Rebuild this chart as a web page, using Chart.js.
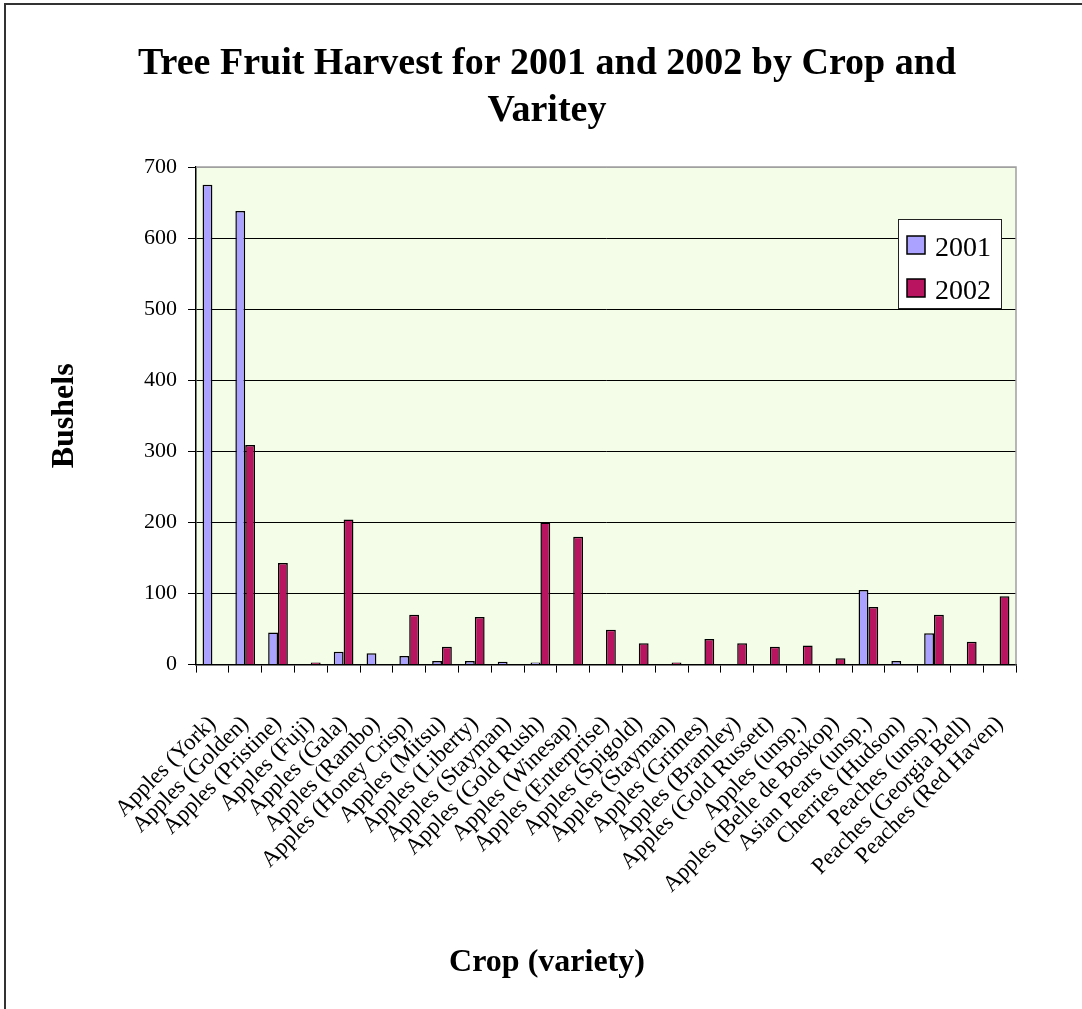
<!DOCTYPE html>
<html>
<head>
<meta charset="utf-8">
<title>Tree Fruit Harvest</title>
<script src="https://cdn.jsdelivr.net/npm/chart.js@4.4.1/dist/chart.umd.min.js"></script>
<style>
    html, body { margin: 0; padding: 0; background: #fff; overflow: hidden; }
    #frame {
        position: absolute; left: 4px; top: 3px; width: 1078px; height: 1006px;
        border-top: 2px solid #333; border-left: 2px solid #333;
    }
    #harvest-chart { position: absolute; left: 0; top: 0; }
</style>
</head>
<body>
<div id="frame"></div>
<canvas id="harvest-chart" width="1082" height="1009"></canvas>
<script>
const crops = [
    'Apples (York)', 'Apples (Golden)', 'Apples (Pristine)', 'Apples (Fuji)',
    'Apples (Gala)', 'Apples (Rambo)', 'Apples (Honey Crisp)', 'Apples (Mitsu)',
    'Apples (Liberty)', 'Apples (Stayman)', 'Apples (Gold Rush)', 'Apples (Winesap)',
    'Apples (Enterprise)', 'Apples (Spigold)', 'Apples (Stayman)', 'Apples (Grimes)',
    'Apples (Bramley)', 'Apples (Gold Russett)', 'Apples (unsp.)', 'Apples (Belle de Boskop)',
    'Asian Pears (unsp.)', 'Cherries (Hudson)', 'Peaches (unsp.)', 'Peaches (Georgia Bell)',
    'Peaches (Red Haven)'
];

// bushels per crop, null = nothing harvested that year
const bushels2001 = [675, 638, 45, null, 18, 16, 12, 5, 5, 4, 3, null, null, null,
    null, null, null, null, null, null, 105, 5, 44, null, null];
const bushels2002 = [null, 309, 143, 3, 204, null, 70, 25, 67, null, 200, 180, 49, 30,
    3, 36, 30, 25, 27, 9, 81, null, 70, 32, 96];

const yTickValues = [0, 100, 200, 300, 400, 500, 600, 700];

const serif = "'Liberation Serif', 'Times New Roman', serif";

// light green plot area with grey top/right edges
const plotArea = {
    id: 'plotArea',
    beforeDraw(chart) {
        const { ctx, chartArea: a } = chart;
        ctx.save();
        ctx.fillStyle = '#f3fde7';
        ctx.fillRect(a.left, a.top, a.width, a.height);
        ctx.restore();
    },
    beforeDatasetsDraw(chart) {
        const { ctx, chartArea: a } = chart;
        ctx.save();
        ctx.strokeStyle = '#a0a0a0';
        ctx.lineWidth = 1.5;
        ctx.beginPath();
        ctx.moveTo(a.left, a.top);
        ctx.lineTo(a.right, a.top);
        ctx.lineTo(a.right, a.bottom);
        ctx.stroke();
        ctx.restore();
    }
};

// boxed legend sitting inside the plot, near the upper right
const boxLegend = {
    id: 'boxLegend',
    afterDraw(chart) {
        const { ctx, chartArea: a } = chart;
        const x = a.right - 118, y = a.top + 52, w = 103, h = 89;
        ctx.save();
        ctx.fillStyle = '#fff';
        ctx.fillRect(x, y, w, h);
        ctx.strokeStyle = '#222';
        ctx.lineWidth = 1;
        ctx.strokeRect(x + 0.5, y + 0.5, w, h);
        ctx.font = '28px ' + serif;
        ctx.textBaseline = 'alphabetic';
        chart.data.datasets.forEach((ds, i) => {
            const rowY = y + 17 + i * 43;
            ctx.fillStyle = ds.backgroundColor;
            ctx.fillRect(x + 9, rowY, 18, 18);
            ctx.strokeStyle = '#000';
            ctx.lineWidth = 1.5;
            ctx.strokeRect(x + 9, rowY, 18, 18);
            ctx.fillStyle = '#000';
            ctx.fillText(ds.label, x + 37, rowY + 20);
        });
        ctx.restore();
    }
};

const ctx = document.getElementById('harvest-chart');
new Chart(ctx, {
    type: 'bar',
    data: {
        labels: crops,
        datasets: [{
            label: '2001',
            data: bushels2001,
            backgroundColor: '#aba2ff',
            borderColor: '#000',
            borderWidth: 1.5,
            borderSkipped: 'bottom'
        }, {
            label: '2002',
            data: bushels2002,
            backgroundColor: '#b8145f',
            borderColor: '#000',
            borderWidth: 1.5,
            borderSkipped: 'bottom'
        }]
    },
    options: {
        responsive: false,
        animation: false,
        layout: { padding: { left: 78, right: 66, top: 0, bottom: 0 } },
        datasets: { bar: { categoryPercentage: 0.6, barPercentage: 1.0 } },
        scales: {
            x: {
                ticks: {
                    color: '#000',
                    font: { family: serif, size: 23 },
                    minRotation: 45,
                    maxRotation: 45,
                    autoSkip: false,
                    padding: 38
                },
                grid: { drawOnChartArea: false, color: '#000', tickLength: 8, offset: true },
                border: { color: '#000', width: 1.5 },
                afterFit(scale) { scale.height = 279; }
            },
            y: {
                min: 0,
                max: 700,
                afterBuildTicks(scale) {
                    scale.ticks = yTickValues.map(v => ({ value: v }));
                },
                ticks: { color: '#000', font: { family: serif, size: 22 }, padding: 11 },
                grid: {
                    color: c => (c.tick && c.tick.value === 700 ? '#a0a0a0' : '#000'),
                    tickColor: '#000',
                    lineWidth: 1,
                    tickLength: 8
                },
                border: { color: '#000', width: 1.5 },
                title: {
                    display: true,
                    text: 'Bushels',
                    color: '#000',
                    font: { family: serif, size: 32, weight: 'bold', lineHeight: 1.2 },
                    padding: { top: -32, bottom: 0 }
                },
                afterFit(scale) { scale.width = 118; }
            }
        },
        plugins: {
            legend: { display: false },
            tooltip: { enabled: false },
            title: {
                display: true,
                text: ['Tree Fruit Harvest for 2001 and 2002 by Crop and', 'Varitey'],
                color: '#000',
                font: { family: serif, size: 38, weight: 'bold', lineHeight: 1.25 },
                padding: { top: 40, bottom: 32 }
            },
            subtitle: {
                display: true,
                position: 'bottom',
                text: 'Crop (variety)',
                color: '#000',
                font: { family: serif, size: 32, weight: 'bold', lineHeight: 1.2 },
                padding: { top: 0, bottom: 27 }
            }
        }
    },
    plugins: [plotArea, boxLegend]
});
</script>
</body>
</html>
